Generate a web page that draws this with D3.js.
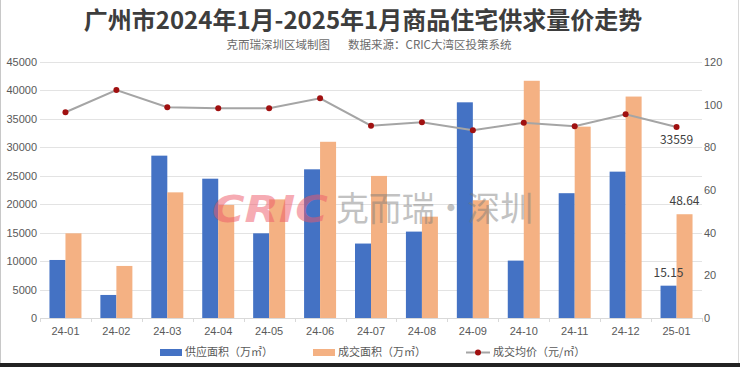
<!DOCTYPE html>
<meta charset="utf-8">
<style>
	body{margin:0;background:#fff;}
	svg{display:block;font-family:"Noto Sans CJK SC","Noto Sans",sans-serif;}
	.grid line{stroke:#e3e3e3;stroke-width:1;}
	.axis text{fill:#595959;font-size:11px;}
	.legend text{fill:#595959;font-size:11px;}
</style>
<body>
<svg width="740" height="367" id="chart"></svg>
<script src="https://cdn.jsdelivr.net/npm/d3@7/dist/d3.min.js"></script>
<script>
	// months
	var months = ["24-01","24-02","24-03","24-04","24-05","24-06","24-07","24-08","24-09","24-10","24-11","24-12","25-01"];
	// supply area (万㎡), right axis
	var supply = [27.2, 10.8, 76.1, 65.3, 39.7, 69.7, 34.9, 40.5, 101.1, 26.9, 58.5, 68.6, 15.15];
	// transaction area (万㎡), right axis
	var deal = [39.7, 24.4, 58.9, 53.0, 55.6, 82.6, 66.6, 47.5, 55.2, 111.2, 89.7, 103.8, 48.64];
	// average price (元/㎡), left axis
	var price = [36160, 40080, 37040, 36860, 36860, 38620, 33810, 34400, 32990, 34330, 33700, 35800, 33559];
	var leftTicks = [0,5000,10000,15000,20000,25000,30000,35000,40000,45000];
	var rightTicks = [0,20,40,60,80,100,120];

	var svg = d3.select("#chart");
	var L = 40, R = 702, T = 62, B = 318;

	var x = d3.scaleBand().domain(months).range([L, R]);
	var xs = d3.scaleBand().domain(["s","d"]).range([0, 32]);
	var yL = d3.scaleLinear().domain([0, 45000]).range([B, T]);
	var yR = d3.scaleLinear().domain([0, 120]).range([B, T]);

	// frame
	svg.append("rect").attr("x",0).attr("y",0).attr("width",740).attr("height",367).attr("fill","#fff");
	svg.append("line").attr("x1",0.5).attr("x2",0.5).attr("y1",0).attr("y2",367).attr("stroke","#c8c8c8");
	svg.append("line").attr("x1",738.5).attr("x2",738.5).attr("y1",0).attr("y2",367).attr("stroke","#d8d8d8");
	svg.append("rect").attr("x",0).attr("y",363).attr("width",740).attr("height",4).attr("fill","#222");

	// title
	svg.append("text").attr("x",363).attr("y",28.5).attr("text-anchor","middle")
		.attr("font-size",24).attr("font-weight","bold").attr("fill","#3d3d3d")
		.text("广州市2024年1月-2025年1月商品住宅供求量价走势");
	svg.append("text").attr("x",369).attr("y",49).attr("text-anchor","middle")
		.attr("font-size",11.5).attr("fill","#6b6b6b").attr("xml:space","preserve")
		.text("克而瑞深圳区域制图       数据来源：CRIC大湾区投策系统");

	// grid
	svg.append("g").attr("class","grid").selectAll("line").data(leftTicks.slice(1)).enter().append("line")
		.attr("x1",L).attr("x2",R).attr("y1",function(d){return Math.round(yL(d))+0.5;}).attr("y2",function(d){return Math.round(yL(d))+0.5;});

	// left axis
	var gl = svg.append("g").attr("class","axis").attr("transform","translate("+(L-3)+",0)")
		.call(d3.axisLeft(yL).tickValues(leftTicks).tickFormat(d3.format("d")).tickSize(0).tickPadding(0));
	gl.select(".domain").remove();

	// right axis
	var gr = svg.append("g").attr("class","axis").attr("transform","translate("+(R+2)+",0)")
		.call(d3.axisRight(yR).tickValues(rightTicks).tickSize(0).tickPadding(0));
	gr.select(".domain").remove();

	// bars
	var bars = svg.append("g");
	bars.selectAll(".s").data(months).enter().append("rect")
		.attr("x",function(d){return x(d)+x.bandwidth()/2-16+xs("s");})
		.attr("y",function(d,i){return yR(supply[i]);})
		.attr("width",xs.bandwidth())
		.attr("height",function(d,i){return B-yR(supply[i]);})
		.attr("fill","#4472c4");
	bars.selectAll(".d").data(months).enter().append("rect")
		.attr("x",function(d){return x(d)+x.bandwidth()/2-16+xs("d");})
		.attr("y",function(d,i){return yR(deal[i]);})
		.attr("width",xs.bandwidth())
		.attr("height",function(d,i){return B-yR(deal[i]);})
		.attr("fill","#f4b183");

	// watermark, semi-transparent over the bars
	var wm = svg.append("g");
	wm.append("text").attr("x",212).attr("y",222).attr("font-size",38).attr("font-weight","900")
		.attr("font-style","italic").attr("font-family","DejaVu Sans, sans-serif")
		.attr("fill","#ee5a6a").attr("opacity",0.5).attr("textLength",116).attr("lengthAdjust","spacingAndGlyphs")
		.text("CRIC");
	wm.append("text").attr("x",336).attr("y",221).attr("font-size",34)
		.attr("fill","#7a7a7a").attr("opacity",0.45).attr("textLength",197).attr("lengthAdjust","spacingAndGlyphs")
		.text("克而瑞·深圳");

	// x axis
	var gx = svg.append("g").attr("class","axis").attr("transform","translate(0,"+B+")")
		.call(d3.axisBottom(x).tickSize(0).tickPadding(9));
	gx.select(".domain").attr("stroke","#d9d9d9");
	svg.append("g").selectAll("line").data(months.concat(["end"])).enter().append("line")
		.attr("x1",function(d,i){return Math.round(L+i*x.step())+0.5;})
		.attr("x2",function(d,i){return Math.round(L+i*x.step())+0.5;})
		.attr("y1",B).attr("y2",B+4).attr("stroke","#d9d9d9");

	// price line
	var line = d3.line().x(function(d,i){return x(months[i])+x.bandwidth()/2;}).y(function(d){return yL(d);});
	svg.append("path").datum(price).attr("d",line).attr("fill","none").attr("stroke","#a5a5a5").attr("stroke-width",2);
	svg.append("g").selectAll("circle").data(price).enter().append("circle")
		.attr("cx",function(d,i){return x(months[i])+x.bandwidth()/2;})
		.attr("cy",function(d){return yL(d);})
		.attr("r",3).attr("fill","#a01010");

	// data labels for last month
	var last = months.length-1, cx = x(months[last])+x.bandwidth()/2;
	svg.append("text").attr("x",cx).attr("y",yL(price[last])+17).attr("text-anchor","middle")
		.attr("font-size",12).attr("fill","#404040").text(price[last]);
	svg.append("text").attr("x",cx+8).attr("y",yR(deal[last])-9).attr("text-anchor","middle")
		.attr("font-size",12).attr("fill","#404040").text(deal[last].toFixed(2));
	svg.append("text").attr("x",cx-8).attr("y",yR(supply[last])-9).attr("text-anchor","middle")
		.attr("font-size",12).attr("fill","#404040").text(supply[last].toFixed(2));

	// legend
	var lg = svg.append("g").attr("class","legend");
	lg.append("rect").attr("x",160).attr("y",349).attr("width",22).attr("height",7).attr("fill","#4472c4");
	lg.append("text").attr("x",185).attr("y",356).text("供应面积（万㎡）");
	lg.append("rect").attr("x",313).attr("y",349).attr("width",22).attr("height",7).attr("fill","#f4b183");
	lg.append("text").attr("x",338).attr("y",356).text("成交面积（万㎡）");
	lg.append("line").attr("x1",466).attr("x2",490).attr("y1",352.5).attr("y2",352.5).attr("stroke","#a5a5a5").attr("stroke-width",2);
	lg.append("circle").attr("cx",478).attr("cy",352.5).attr("r",3).attr("fill","#a01010");
	lg.append("text").attr("x",493).attr("y",356).text("成交均价（元/㎡）");
</script>
</body>
